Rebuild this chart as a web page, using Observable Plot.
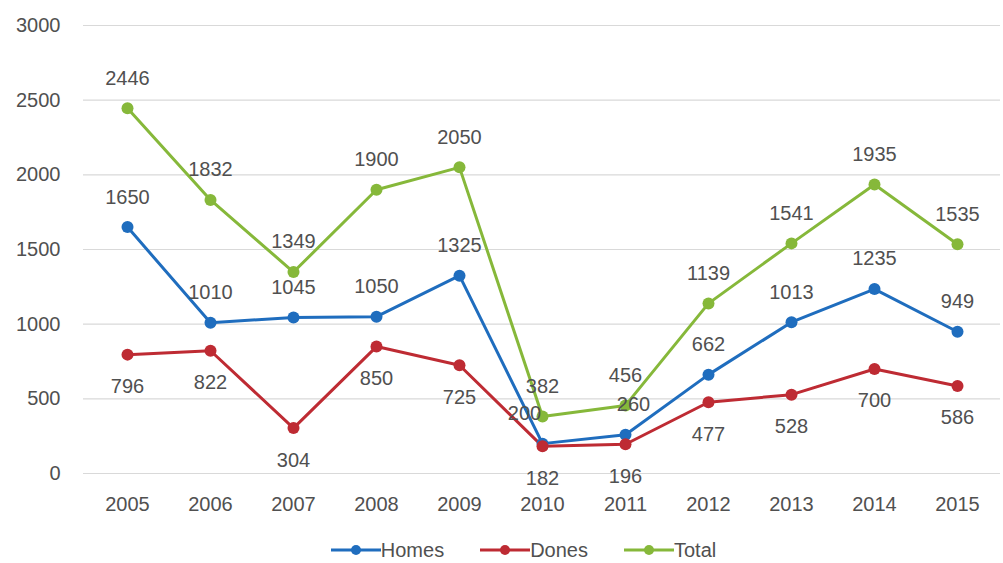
<!DOCTYPE html>
<html>
<head>
<meta charset="utf-8">
<script src="https://cdn.jsdelivr.net/npm/d3@7"></script>
<script src="https://cdn.jsdelivr.net/npm/@observablehq/plot@0.6"></script>
<style>
  html, body { margin: 0; padding: 0; background: #fff; }
  #chart { width: 1003px; height: 530px; }
  .legend { display: flex; justify-content: center; align-items: center; gap: 36px;
    font-family: "Liberation Sans", Arial, sans-serif; font-size: 20px; color: #505050;
    padding-left: 44px; height: 30px; margin-top: 5px; width: 959px; }
  .legend .item { display: flex; align-items: center; gap: 0px; }
  .legend svg { display: block; }
</style>
</head>
<body>
<div id="chart"></div>
<script>
const years = [2005, 2006, 2007, 2008, 2009, 2010, 2011, 2012, 2013, 2014, 2015];
const homes = [1650, 1010, 1045, 1050, 1325, 200, 260, 662, 1013, 1235, 949];
const dones = [796, 822, 304, 850, 725, 182, 196, 477, 528, 700, 586];
const total = [2446, 1832, 1349, 1900, 2050, 382, 456, 1139, 1541, 1935, 1535];
const seriesNames = ["Homes", "Dones", "Total"];
const seriesColors = ["#1F6DBE", "#BE2B33", "#86B83A"];
const yTicks = [0, 500, 1000, 1500, 2000, 2500, 3000];

const seriesValues = [homes, dones, total];
const data = [];
seriesNames.forEach((name, s) => {
  years.forEach((yr, i) => data.push({year: yr, series: name, value: seriesValues[s][i]}));
});
const above = data.filter(d => d.series !== "Dones");
const below = data.filter(d => d.series === "Dones");
const textColor = "#505050";

const chart = Plot.plot({
  width: 1003,
  height: 530,
  marginTop: 25,
  marginBottom: 57,
  marginLeft: 83,
  marginRight: 3,
  style: {fontFamily: "Liberation Sans, Arial, sans-serif", fontSize: "20px", color: textColor, background: "#fff"},
  x: {type: "point", domain: years, padding: 0.5, label: null, tickSize: 0, tickPadding: 23, tickFormat: d => String(d)},
  y: {domain: [0, 3000], ticks: yTicks, label: null, tickSize: 0, tickPadding: 23, tickFormat: d => String(d)},
  color: {domain: seriesNames, range: seriesColors},
  marks: [
    Plot.gridY(yTicks, {stroke: "#d9d9d9", strokeOpacity: 1, strokeWidth: 1.2}),
    Plot.line(data, {x: "year", y: "value", z: "series", stroke: "series", strokeWidth: 3}),
    Plot.dot(data, {x: "year", y: "value", fill: "series", r: 6}),
    Plot.text(above.filter(d => !(d.series === "Homes" && (d.year === 2010 || d.year === 2011))),
      {x: "year", y: "value", text: d => String(d.value), dy: -30, fill: textColor}),
    Plot.text(above.filter(d => d.series === "Homes" && d.year === 2010),
      {x: "year", y: "value", text: d => String(d.value), dy: -30, dx: -18, fill: textColor}),
    Plot.text(above.filter(d => d.series === "Homes" && d.year === 2011),
      {x: "year", y: "value", text: d => String(d.value), dy: -30, dx: 8, fill: textColor}),
    Plot.text(below, {x: "year", y: "value", text: d => String(d.value), dy: 32, fill: textColor})
  ]
});
document.getElementById("chart").appendChild(chart);

const legend = document.createElement("div");
legend.className = "legend";
seriesNames.forEach((name, i) => {
  const item = document.createElement("div");
  item.className = "item";
  item.innerHTML = `<svg width="50" height="14"><line x1="0" y1="7" x2="50" y2="7" stroke="${seriesColors[i]}" stroke-width="3"/><circle cx="25" cy="7" r="5" fill="${seriesColors[i]}"/></svg><span>${name}</span>`;
  legend.appendChild(item);
});
document.body.appendChild(legend);
</script>
</body>
</html>
